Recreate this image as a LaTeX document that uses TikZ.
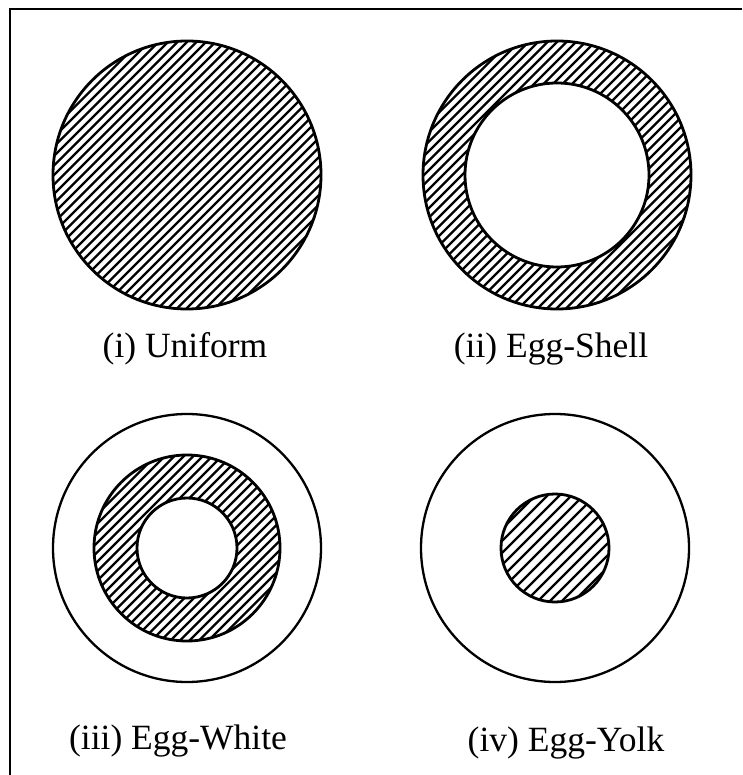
\documentclass[tikz,border=0pt]{standalone}
\usepackage{fontspec}
\setmainfont{Liberation Serif}
\tikzset{
  rim/.style={draw, line width=2.8pt},
  thinrim/.style={draw, line width=2.3pt},
  hatchline/.style={line width=2.4pt},
  caption/.style={anchor=base, inner sep=0pt, font=\fontsize{35.5}{40}\selectfont},
  frameline/.style={line width=2.5pt}
}
% hatched ring: #1 centre, #2 outer radius, #3 inner radius, #4 line spacing
\newcommand{\hatchring}[4]{%
  \begin{scope}[even odd rule]
    \clip #1 circle (#2) #1 circle (#3);
    \foreach \i [evaluate=\i as \k using \i*#4] in {-30,...,30}
      \draw[hatchline, shift={#1}] (\k-2*#2,2*#2) -- (\k+2*#2,-2*#2);
  \end{scope}}

\begin{document}
\begin{tikzpicture}[x=1pt, y=-1pt]
    \useasboundingbox (0,0) rectangle (742,775);
    \draw[frameline] (10,775) -- (10,9) -- (742,9);

    % (i) uniform
    \hatchring{(187,175)}{134}{0.01}{9.5}
    \draw[rim] (187,175) circle (134);
    \node[caption] (uniform) at (185,357) {(i) Uniform};

    % (ii) egg-shell
    \hatchring{(557,175)}{134}{92}{9.5}
    \draw[rim] (557,175) circle (134);
    \draw[rim] (557,175) circle (92);
    \node[caption] (shell) at (551,357) {(ii) Egg-Shell};

    % (iii) egg-white
    \hatchring{(187,548)}{93}{50}{9.5}
    \draw[thinrim] (187,548) circle (134);
    \draw[rim] (187,548) circle (93);
    \draw[rim] (187,548) circle (50);
    \node[caption] (white) at (178,749) {(iii) Egg-White};

    % (iv) egg-yolk
    \hatchring{(555,548)}{54}{0.01}{12}
    \draw[thinrim] (555,548) circle (134);
    \draw[rim] (555,548) circle (54);
    \node[caption] (yolk) at (566,751) {(iv) Egg-Yolk};
\end{tikzpicture}
\end{document}
